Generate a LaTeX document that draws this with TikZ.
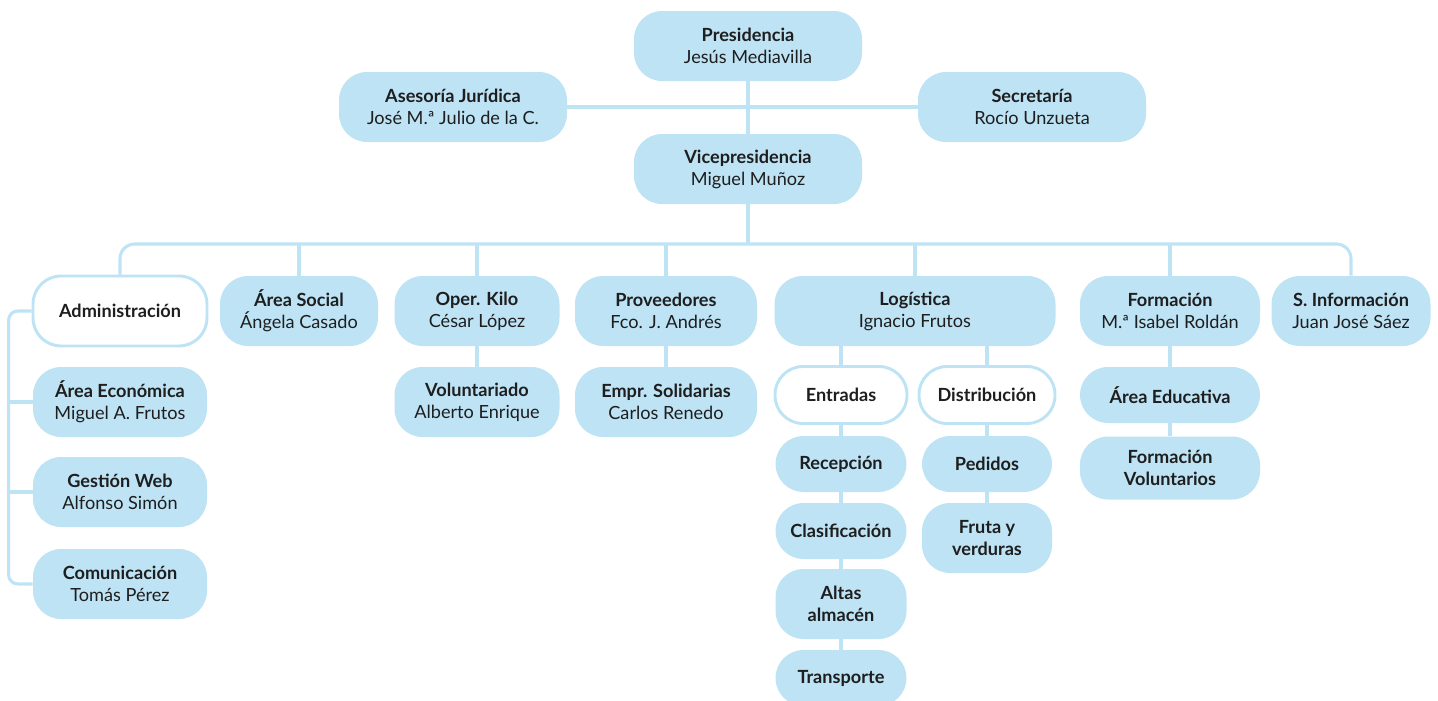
\documentclass[tikz,border=0pt]{standalone}
\usepackage{fontspec}
\setmainfont{Lato}
\definecolor{celeste}{HTML}{BDE3F5}
\definecolor{tinta}{HTML}{1E1E1E}
\tikzset{
  caja/.style={rounded corners=21pt, fill=celeste, align=center, text=tinta,
    inner sep=0pt, font=\fontsize{13.6}{16.5}\selectfont},
  cajab/.style={caja, fill=white, draw=celeste, line width=2.2pt},
  tam/.style 2 args={minimum width=#1*0.75pt, minimum height=#2*0.75pt},
  linea/.style={draw=celeste, line width=2.3pt},
}
\begin{document}
\begin{tikzpicture}[x=0.75pt, y=-0.75pt]
% Organigrama: coordenadas en px, origen arriba a la izquierda
\useasboundingbox (0,0) rectangle (1438,700);

% direccion
\node[caja, tam={228}{70}] (pres) at (748,46) {\textbf{Presidencia}\\Jesús Mediavilla};
\node[caja, tam={228}{70}] (ases) at (453,107) {\textbf{Asesoría Jurídica}\\José M.ª Julio de la C.};
\node[caja, tam={228}{70}] (secr) at (1032,107) {\textbf{Secretaría}\\Rocío Unzueta};
\node[caja, tam={228}{70}] (vice) at (748,169) {\textbf{Vicepresidencia}\\Miguel Muñoz};

% areas
\node[cajab, tam={174}{70}] (adm) at (120,311) {\textbf{Administración}};
\node[caja, tam={158}{70}] (soc) at (299,311) {\textbf{Área Social}\\Ángela Casado};
\node[caja, tam={165}{70}] (kilo) at (477,311) {\textbf{Oper. Kilo}\\César López};
\node[caja, tam={182}{70}] (prov) at (666,311) {\textbf{Proveedores}\\Fco. J. Andrés};
\node[caja, tam={281}{70}] (logi) at (915,311) {\textbf{Logística}\\Ignacio Frutos};
\node[caja, tam={180}{70}] (form) at (1170,311) {\textbf{Formación}\\M.ª Isabel Roldán};
\node[caja, tam={159}{70}] (sinf) at (1351,311) {\textbf{S. Información}\\Juan José Sáez};

% administracion
\node[caja, tam={174}{70}] (eco) at (120,402) {\textbf{Área Económica}\\Miguel A. Frutos};
\node[caja, tam={174}{70}] (web) at (120,492) {\textbf{Gestión Web}\\Alfonso Simón};
\node[caja, tam={174}{70}] (com) at (120,584) {\textbf{Comunicación}\\Tomás Pérez};

\node[caja, tam={165}{70}] (volu) at (477,402) {\textbf{Voluntariado}\\Alberto Enrique};
\node[caja, tam={182}{70}] (empr) at (666,402) {\textbf{Empr. Solidarias}\\Carlos Renedo};

% logistica
\node[cajab, tam={132}{57}] (entr) at (841,395) {\textbf{Entradas}};
\node[cajab, tam={136}{57}] (dist) at (987,395) {\textbf{Distribución}};
\node[caja, tam={131}{56}] (rece) at (841,464) {\textbf{Recepción}};
\node[caja, tam={131}{56}] (clas) at (841,531) {\textbf{Clasificación}};
\node[caja, tam={131}{70}] (alta) at (841,604) {\textbf{Altas}\\\textbf{almacén}};
\node[caja, tam={131}{56}] (tran) at (841,678) {\textbf{Transporte}};
\node[caja, tam={130}{56}] (pedi) at (987,464) {\textbf{Pedidos}};
\node[caja, tam={130}{70}] (frut) at (987,538) {\textbf{Fruta y}\\\textbf{verduras}};

% formacion
\node[caja, tam={180}{56}] (educ) at (1170,395) {\textbf{Área Educativa}};
\node[caja, tam={180}{63}] (fvol) at (1170,468) {\textbf{Formación}\\\textbf{Voluntarios}};

% conexiones
\coordinate (bus) at (748,244);
\draw[linea] (pres) -- (vice);
\draw[linea] (ases) -- (secr);
\draw[linea] (vice) -- (bus);
\draw[linea, rounded corners=11pt] (adm.north) |- (bus) -| (sinf.north);
\foreach \n in {soc,kilo,prov,logi,form}
  \draw[linea] (\n.north) -- (\n.north |- bus);

\draw[linea, rounded corners=7pt] (adm.west) -- ++(-23,0) |- (com.west);
\draw[linea] (eco.west) -- ++(-23,0);
\draw[linea] (web.west) -- ++(-23,0);

\draw[linea] (kilo) -- (volu);
\draw[linea] (prov) -- (empr);
\draw[linea] (entr) -- (entr |- logi.south);
\draw[linea] (dist) -- (dist |- logi.south);
\foreach \a/\b in {entr/rece,rece/clas,clas/alta,alta/tran,dist/pedi,pedi/frut,form/educ,educ/fvol}
  \draw[linea] (\a) -- (\b);

\end{tikzpicture}
\end{document}
